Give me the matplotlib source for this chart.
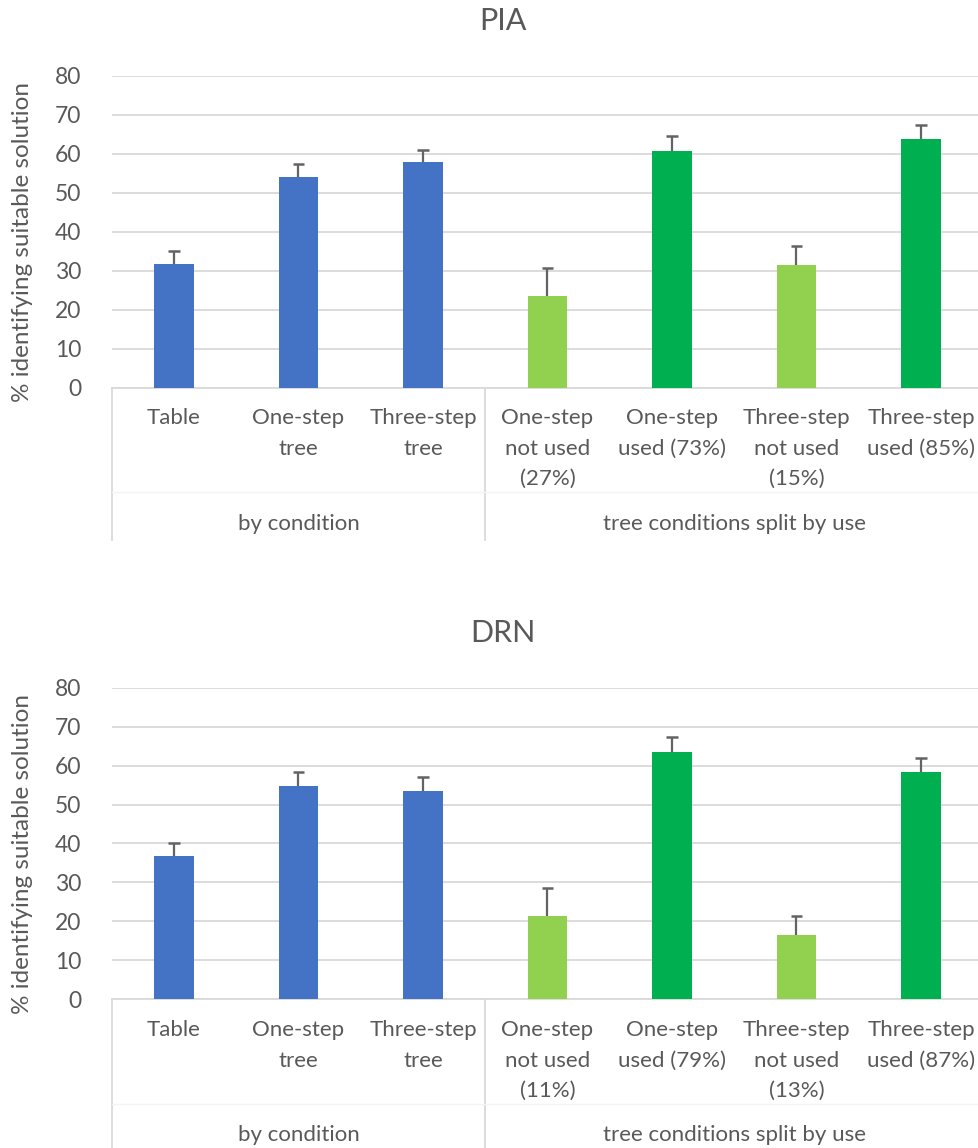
import numpy as np
from matplotlib import pyplot as plt
import matplotlib.transforms as mtransforms

###################
# Plot parameters #
###################
plt.rcParams['font.family'] = ['Lato', 'DejaVu Sans']
text_color = '#595959'
grid_color = '#d9d9d9'

# Categories (shared by both panels)
group_names = ['by condition', 'tree conditions split by use']
bar_colors = ['#4472C4', '#4472C4', '#4472C4', '#92D050', '#00B050', '#92D050', '#00B050']

pia_labels = ['Table', 'One-step\ntree', 'Three-step\ntree',
              'One-step\nnot used\n(27%)', 'One-step\nused (73%)',
              'Three-step\nnot used\n(15%)', 'Three-step\nused (85%)']
drn_labels = ['Table', 'One-step\ntree', 'Three-step\ntree',
              'One-step\nnot used\n(11%)', 'One-step\nused (79%)',
              'Three-step\nnot used\n(13%)', 'Three-step\nused (87%)']

# Values and error bars
pia_values = [31.8, 54.0, 57.8, 23.4, 60.7, 31.4, 63.9]
pia_errors = [3.2, 3.3, 3.3, 7.2, 3.8, 4.9, 3.6]
drn_values = [36.7, 54.7, 53.6, 21.3, 63.5, 16.4, 58.4]
drn_errors = [3.5, 3.7, 3.5, 7.2, 3.8, 4.9, 3.5]

y_label = '% identifying suitable solution'

W, H = 979, 1148


def panel(fig, base_px, title, values, errors, labels, sep_bottom):
    # axes placed by pixel positions of the reference
    left = 111.75 / W
    width = 871.5 / W
    height = 311.6 / H
    ax = fig.add_axes([left, (H - base_px) / H, width, height])
    x = np.arange(len(values))
    tops = np.array(values) + np.array(errors)
    ax.bar(x, values, width=0.315, color=bar_colors, zorder=3)

    # upper error bars only (stem + cap)
    ax.vlines(x, values, tops, color='#636363', linewidth=1.6, zorder=4)
    ax.hlines(tops, x - 0.048, x + 0.048, color='#636363', linewidth=1.8, zorder=4)

    ax.set_xlim(-0.5, len(values) - 0.5)
    ax.set_ylim(0, 80)
    ax.set_yticks(range(0, 81, 10))
    ax.yaxis.grid(True, color=grid_color, linewidth=1.3, zorder=0)
    ax.tick_params(axis='y', length=0, pad=22, labelsize=16.5, labelcolor=text_color)
    ax.set_xticks([])
    for s in ['top', 'right', 'left']:
        ax.spines[s].set_visible(False)
    ax.spines['bottom'].set_color(grid_color)
    ax.spines['bottom'].set_linewidth(1.3)

    # category labels
    for i, lab in enumerate(labels):
        ax.annotate(lab, xy=(i, 0), xycoords=('data', 'axes fraction'),
                    xytext=(0, -21), textcoords='offset pixels',
                    ha='center', va='top', fontsize=16, color=text_color,
                    linespacing=1.64, annotation_clip=False)
    # group labels
    for c, name in zip([1, 4.5], group_names):
        ax.annotate(name, xy=(c, 0), xycoords=('data', 'axes fraction'),
                    xytext=(0, -136), textcoords='offset pixels',
                    ha='center', va='center', fontsize=16, color=text_color,
                    annotation_clip=False)

    # multi-level axis separators
    trans = mtransforms.blended_transform_factory(ax.transData, ax.transAxes)
    for xs in [-0.5, 2.5]:
        ax.plot([xs, xs], [0, sep_bottom], transform=trans, color=grid_color,
                linewidth=1.3, clip_on=False)
    ax.plot([-0.5, 6.5], [-105 / 311.6] * 2, transform=trans, color='#f4f4f4',
            linewidth=1.0, clip_on=False)

    # title and y label
    fig.text(503 / W, 1 - (base_px - 366) / H, title, ha='center', va='center',
             fontsize=22, color=text_color)
    fig.text(23 / W, 1 - (base_px - 145) / H, y_label, ha='center', va='center',
             rotation=90, fontsize=17.5, color=text_color)
    return ax


fig = plt.figure(figsize=(W / 100, H / 100), dpi=100)
panel(fig, 387.5, 'PIA', pia_values, pia_errors, pia_labels, -152 / 311.6)
panel(fig, 999.3, 'DRN', drn_values, drn_errors, drn_labels, -0.6)

fig.savefig('out.png', dpi=100)
